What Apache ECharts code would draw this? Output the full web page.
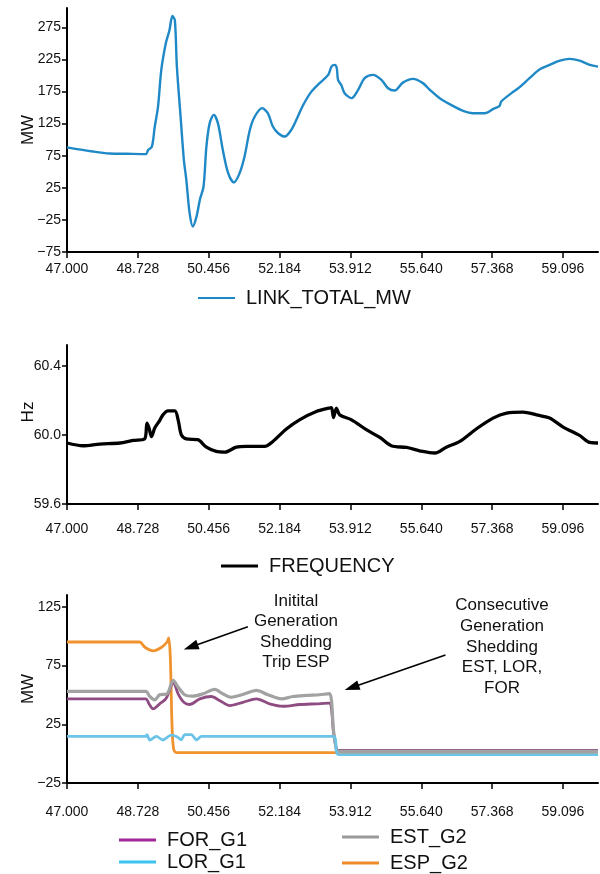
<!DOCTYPE html>
<html>
<head>
<meta charset="utf-8">
<script src="https://cdn.jsdelivr.net/npm/echarts@6/dist/echarts.min.js"></script>
<style>
  html, body { margin: 0; padding: 0; background: #fff; }
  #chart { width: 600px; height: 874px; }
</style>
</head>
<body>
<div id="chart"></div>
<script>
/* ---- data (time in s, values in MW / Hz) ---- */
const xTicks = [47.000, 48.728, 50.456, 52.184, 53.912, 55.640, 57.368, 59.096];
const mwTicksTop = [-75, -25, 25, 75, 125, 175, 225, 275];
const hzTicks = [59.6, 60.0, 60.4];
const mwTicksBottom = [-25, 25, 75, 125];

const linkTotalMW = [
  [47, 88], [47.63, 81.5], [48.04, 78.4], [48.45, 78], [48.92, 77.5], [48.98, 84], [49.07, 89],
  [49.14, 120], [49.22, 151.5], [49.30, 208.6], [49.41, 250], [49.50, 270.8], [49.57, 292.6],
  [49.63, 286], [49.68, 213.7], [49.77, 136], [49.85, 68.6], [49.91, 37.5], [49.99, -14.3],
  [50.07, -35.2], [50.16, -19.6], [50.24, 6.4], [50.33, 27], [50.40, 89.3], [50.48, 125.7],
  [50.58, 138.6], [50.68, 125.7], [50.80, 84], [50.93, 47.9], [51.07, 33.3], [51.21, 47.9],
  [51.33, 73.7], [51.46, 115.3], [51.58, 136], [51.76, 149], [51.90, 141], [52.02, 120.4],
  [52.15, 110], [52.31, 104.8], [52.47, 115.3], [52.63, 136], [52.76, 154], [52.96, 174.8],
  [53.16, 188], [53.37, 200.8], [53.45, 213.7], [53.53, 216.4], [53.58, 211], [53.61, 193],
  [53.69, 185], [53.77, 172.4], [53.94, 164.6], [54.10, 177.5], [54.26, 195.7], [54.46, 200.8],
  [54.67, 193], [54.83, 180], [54.99, 176.4], [55.19, 188.8], [55.44, 194.6], [55.68, 188],
  [55.85, 177.5], [56.09, 164.6], [56.41, 152.6], [56.66, 144.8], [56.90, 141.2], [57.19, 141.2],
  [57.39, 147.5], [57.55, 152.6], [57.59, 159.3], [57.84, 172.4], [58.04, 181.7], [58.28, 195.7],
  [58.53, 209.7], [58.77, 216.4], [59.02, 223], [59.26, 225.7], [59.50, 223], [59.75, 216.4],
  [59.95, 213.7]
];

const frequency = [
  [47, 59.953], [47.39, 59.937], [47.80, 59.947], [48.29, 59.953], [48.61, 59.968], [48.89, 59.976],
  [48.95, 60.068], [49.00, 60.04], [49.06, 59.99], [49.14, 60.04], [49.26, 60.083], [49.34, 60.116],
  [49.46, 60.139], [49.63, 60.139], [49.71, 60.087], [49.79, 60.0], [49.91, 59.977], [50.19, 59.972],
  [50.40, 59.929], [50.64, 59.904], [50.85, 59.90], [51.13, 59.929], [51.37, 59.933], [51.82, 59.933],
  [52.02, 59.962], [52.35, 60.034], [52.67, 60.087], [53.08, 60.135], [53.39, 60.155], [53.45, 60.158],
  [53.50, 60.10], [53.57, 60.155], [53.65, 60.116], [53.94, 60.087], [54.30, 60.03], [54.63, 59.985],
  [54.91, 59.937], [55.28, 59.927], [55.60, 59.908], [55.97, 59.895], [56.25, 59.929], [56.58, 59.962],
  [56.98, 60.034], [57.39, 60.097], [57.72, 60.126], [58.12, 60.132], [58.45, 60.116], [58.77, 60.097],
  [59.10, 60.045], [59.50, 59.997], [59.75, 59.956], [59.95, 59.953]
];

const forG1 = [
  [47, 46.6], [48.92, 46.6], [49.00, 42.4], [49.10, 38.1], [49.26, 42.4], [49.41, 46.6], [49.50, 53.8],
  [49.59, 60.9], [49.71, 50.9], [49.85, 43.7], [49.99, 41.8], [50.24, 46.6], [50.52, 48.6], [50.72, 45.2],
  [50.97, 40.9], [51.29, 43.7], [51.62, 46.6], [51.94, 42.4], [52.27, 40.3], [52.67, 41.8], [53.08, 42.4],
  [53.40, 42.9], [53.45, 38], [53.50, 18], [53.58, 3], [53.62, 2.8], [59.95, 2.8]
];
const lorG1 = [
  [47, 14.6], [48.92, 14.6], [48.95, 16.1], [49.02, 11.6], [49.18, 14.6], [49.34, 11.6], [49.54, 15.8],
  [49.67, 14.6], [49.79, 11.8], [49.87, 16.1], [50.03, 16.1], [50.16, 11.8], [50.28, 14.6], [53.49, 14.6],
  [53.63, -0.8], [59.95, -0.8]
];
const estG2 = [
  [47, 52.9], [48.92, 52.9], [49.02, 48.6], [49.14, 45.8], [49.26, 50.1], [49.44, 50.9], [49.59, 62.3],
  [49.71, 56.6], [49.87, 50.1], [50.07, 48.9], [50.32, 50.9], [50.60, 54.6], [50.80, 50.9], [51.01, 48.0],
  [51.29, 50.3], [51.62, 53.8], [51.90, 50.1], [52.23, 46.6], [52.51, 48.6], [52.84, 49.5], [53.16, 50.1],
  [53.40, 51], [53.45, 45.2], [53.50, 19.5], [53.57, 4], [53.61, 2], [59.95, 2]
];
const espG2 = [
  [47, 95], [48.77, 95], [48.90, 90.5], [49.10, 87.5], [49.30, 90.3], [49.44, 95], [49.48, 98.5],
  [49.52, 82], [49.56, 25], [49.60, 4], [49.67, 0.9], [59.95, 0.9]
];

/* annotation arrows, in data units of the bottom panel: [from, to] */
const arrowTrip = [[51.41, 108], [50.02, 90.8]];
const arrowShed = [[56.23, 83.9], [53.945, 56.2]];

/* ---- style ---- */
const FONT = "Liberation Sans, Arial, sans-serif";
const X_MIN = 47, X_MAX = 59.95;

function xAxisFor(gridIndex, margin) {
  return {
    type: "value", gridIndex, min: X_MIN, max: X_MAX, interval: 1.728,
    axisLine: { show: true, onZero: false, lineStyle: { color: "#000", width: 2 } },
    axisTick: { show: true, length: 6, customValues: xTicks, lineStyle: { color: "#000", width: 1.5 } },
    axisLabel: { customValues: xTicks, formatter: (v) => v.toFixed(3), fontSize: 14, color: "#111", fontFamily: FONT, margin },
    splitLine: { show: false },
  };
}
function yAxisFor(gridIndex, min, max, ticks, name, fmt, namePad) {
  return {
    type: "value", gridIndex, min, max,
    name, nameLocation: "middle", nameGap: 30, nameMoveOverlap: false,
    nameTextStyle: { fontSize: 17, color: "#111", fontFamily: FONT, padding: namePad || 0 },
    axisLine: { show: true, onZero: false, lineStyle: { color: "#000", width: 2 } },
    axisTick: { show: true, length: 5, customValues: ticks, lineStyle: { color: "#000", width: 1.5 } },
    axisLabel: { customValues: ticks, formatter: fmt, fontSize: 14, color: "#111", fontFamily: FONT, margin: 6 },
    splitLine: { show: false },
  };
}
const minus = (v) => String(v).replace("-", "\u2212");

function line(name, data, idx, color, width, z) {
  return {
    type: "line", name, data, xAxisIndex: idx, yAxisIndex: idx,
    showSymbol: false, symbol: "none", smooth: 0.3, z,
    lineStyle: { color, width }, itemStyle: { color },
  };
}
function arrow(pair) {
  return [{ coord: pair[0], symbol: "none" }, { coord: pair[1], symbol: "triangle" }];
}

const legendText = { fontSize: 20, color: "#111", fontFamily: FONT, padding: [0, 0, 0, 6] };
function legendItem(name, color, left, top, h) {
  return { left, top, itemWidth: 37, itemHeight: h, icon: "rect", textStyle: legendText,
           data: [{ name, itemStyle: { color } }] };
}

const option = {
  animation: false,
  backgroundColor: "#fff",
  grid: [
    { left: 67, top: 8, width: 531, height: 244 },
    { left: 67, top: 345, width: 531, height: 159 },
    { left: 67, top: 595, width: 531, height: 188 },
  ],
  xAxis: [xAxisFor(0, 10), xAxisFor(1, 18), xAxisFor(2, 22)],
  yAxis: [
    yAxisFor(0, -75, 305, mwTicksTop, "MW", minus),
    yAxisFor(1, 59.6, 60.52, hzTicks, "Hz", (v) => v.toFixed(1), [0, 0, 0, 25]),
    yAxisFor(2, -25, 135, mwTicksBottom, "MW", minus),
  ],
  legend: [
    legendItem("LINK_TOTAL_MW", "#1f88c6", 193, 283, 2),
    legendItem("FREQUENCY", "#000", 216, 551, 3),
    legendItem("FOR_G1", "#a0289a", 114, 825, 3),
    legendItem("LOR_G1", "#3cc4ee", 114, 847, 3),
    legendItem("EST_G2", "#9a9a9a", 337, 822, 3),
    legendItem("ESP_G2", "#f0892a", 337, 848, 3),
  ],
  graphic: [
    { type: "text", x: 296, y: 591, silent: true,
      style: { text: "Initital\nGeneration\nShedding\nTrip ESP", align: "center", verticalAlign: "top",
               font: "17px " + FONT, lineHeight: 20.5, fill: "#111" } },
    { type: "text", x: 502, y: 595, silent: true,
      style: { text: "Consecutive\nGeneration\nShedding\nEST, LOR,\nFOR", align: "center", verticalAlign: "top",
               font: "17px " + FONT, lineHeight: 20.8, fill: "#111" } },
  ],
  series: [
    line("LINK_TOTAL_MW", linkTotalMW, 0, "#1f88c6", 2.4, 2),
    line("FREQUENCY", frequency, 1, "#000", 3.3, 2),
    Object.assign(line("ESP_G2", espG2, 2, "#f0922e", 2.8, 2), {
      markLine: {
        silent: true, symbolSize: [10, 15], label: { show: false },
        lineStyle: { color: "#000", width: 1.6, type: "solid" },
        itemStyle: { color: "#000" },
        data: [arrow(arrowTrip), arrow(arrowShed)],
      },
    }),
    line("FOR_G1", forG1, 2, "#8e4c82", 2.8, 3),
    line("EST_G2", estG2, 2, "#a2a2a2", 3.2, 4),
    line("LOR_G1", lorG1, 2, "#6cc3e8", 2.8, 5),
  ],
};

const chart = echarts.init(document.getElementById("chart"), null, { renderer: "canvas" });
chart.setOption(option);
</script>
</body>
</html>
